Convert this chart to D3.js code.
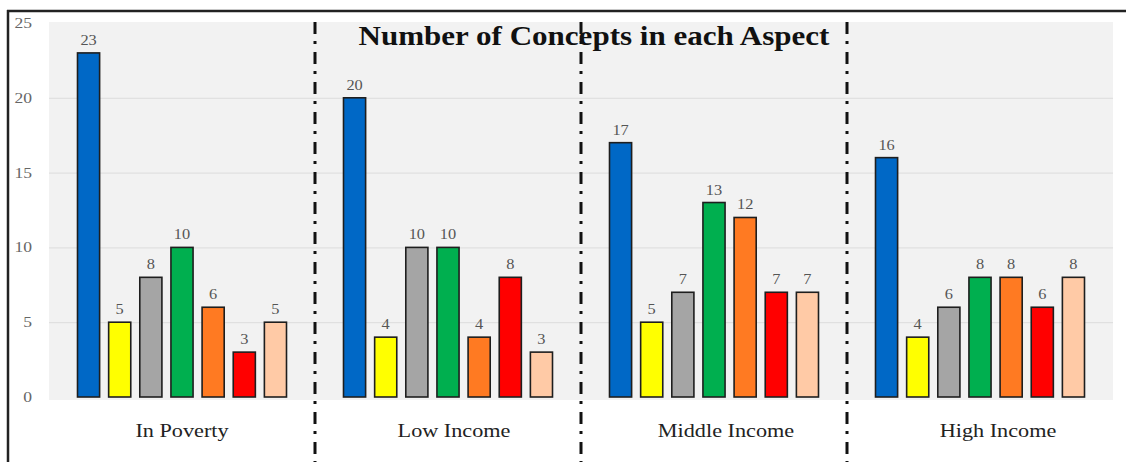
<!DOCTYPE html>
<html>
<head>
<meta charset="utf-8">
<script src="https://cdn.jsdelivr.net/npm/d3@7"></script>
<style>
  html, body { margin: 0; padding: 0; background: #fff; }
  svg { display: block; }
</style>
</head>
<body>
<svg id="chart" width="1126" height="462"></svg>
<script>
// Income groups along the x axis
const groups = ["In Poverty", "Low Income", "Middle Income", "High Income"];
// Seven concept series drawn inside each group
const seriesKeys = ["s1", "s2", "s3", "s4", "s5", "s6", "s7"];
const seriesColors = ["#0068C6", "#FFFF00", "#A5A5A5", "#00AF4F", "#FF7A22", "#FF0000", "#FFCAA6"];
// Concept counts per group, one array per group in series order
const inPoverty    = [23, 5, 8, 10, 6, 3, 5];
const lowIncome    = [20, 4, 10, 10, 4, 8, 3];
const middleIncome = [17, 5, 7, 13, 12, 7, 7];
const highIncome   = [16, 4, 6, 8, 8, 6, 8];
const yTicks = [0, 5, 10, 15, 20, 25];
const titleText = "Number of Concepts in each Aspect";

const valuesByGroup = [inPoverty, lowIncome, middleIncome, highIncome];
const rows = groups.map((g, i) => ({
  group: g,
  bars: seriesKeys.map((k, j) => ({ key: k, color: seriesColors[j], value: valuesByGroup[i][j] }))
}));

const svg = d3.select("#chart");
const stretch = 1.17;           // text is set slightly wide
const serif = "'Liberation Serif', 'Times New Roman', serif";

const plot = { left: 49, right: 1113, top: 22, bottom: 400 };

const x0 = d3.scaleBand().domain(groups).range([plot.left, plot.right]).padding(0);
const x1 = d3.scaleBand().domain(seriesKeys)
  .range([28.5, x0.bandwidth() - 28.5]).paddingInner(0.29).paddingOuter(0);
const y = d3.scaleLinear().domain([0, 25]).range([397, 23]);
// category captions sit on a slightly wider row than the bars
const xLabel = d3.scaleBand().domain(groups).range([46, 1134]);

// plot background
svg.append("rect")
  .attr("x", plot.left).attr("y", plot.top)
  .attr("width", plot.right - plot.left).attr("height", plot.bottom - plot.top)
  .attr("fill", "#F2F2F2");

// horizontal gridlines
svg.append("g").selectAll("line")
  .data(yTicks.filter(t => t > 0 && t < 25))
  .join("line")
  .attr("x1", plot.left).attr("x2", plot.right)
  .attr("y1", d => y(d) + 0.5).attr("y2", d => y(d) + 0.5)
  .attr("stroke", "#DCDCDC").attr("stroke-width", 1);

// y tick labels
svg.append("g").selectAll("text")
  .data(yTicks)
  .join("text")
  .attr("transform", d => `translate(32,${y(d) + 5}) scale(${stretch},1)`)
  .attr("text-anchor", "end")
  .attr("font-family", serif).attr("font-size", 15)
  .attr("fill", "#666")
  .text(d => d);

// bars
const g = svg.append("g").selectAll("g")
  .data(rows)
  .join("g")
  .attr("transform", d => `translate(${x0(d.group)},0)`);

g.selectAll("rect")
  .data(d => d.bars)
  .join("rect")
  .attr("x", d => x1(d.key))
  .attr("y", d => y(d.value))
  .attr("width", x1.bandwidth())
  .attr("height", d => y(0) - y(d.value))
  .attr("fill", d => d.color)
  .attr("stroke", "#1E1E1E").attr("stroke-width", 1.6);

// value labels above bars
g.selectAll("text")
  .data(d => d.bars)
  .join("text")
  .attr("transform", d => `translate(${x1(d.key) + x1.bandwidth() / 2},${y(d.value) - 8}) scale(${stretch},1)`)
  .attr("text-anchor", "middle")
  .attr("font-family", serif).attr("font-size", 14)
  .attr("fill", "#555")
  .text(d => d.value);

// dash-dot dividers between groups
svg.append("g").selectAll("line")
  .data(groups.slice(1))
  .join("line")
  .attr("x1", d => x0(d)).attr("x2", d => x0(d))
  .attr("y1", plot.top).attr("y2", 462)
  .attr("stroke", "#111").attr("stroke-width", 3)
  .attr("stroke-dasharray", "12,7,3,8");

// category captions
svg.append("g").selectAll("text")
  .data(groups)
  .join("text")
  .attr("transform", d => `translate(${xLabel(d) + xLabel.bandwidth() / 2},437) scale(${stretch},1)`)
  .attr("text-anchor", "middle")
  .attr("font-family", serif).attr("font-size", 19)
  .attr("fill", "#222")
  .text(d => d);

// title
svg.append("text")
  .attr("transform", `translate(594,45) scale(1.15,1)`)
  .attr("text-anchor", "middle")
  .attr("font-family", serif).attr("font-size", 27).attr("font-weight", "bold")
  .attr("fill", "#111")
  .text(titleText);

// outer frame: top and left rules
svg.append("line").attr("x1", 7).attr("x2", 1126).attr("y1", 11).attr("y2", 11)
  .attr("stroke", "#222").attr("stroke-width", 2.5);
svg.append("line").attr("x1", 8).attr("x2", 8).attr("y1", 10).attr("y2", 462)
  .attr("stroke", "#222").attr("stroke-width", 2.5);
</script>
</body>
</html>
